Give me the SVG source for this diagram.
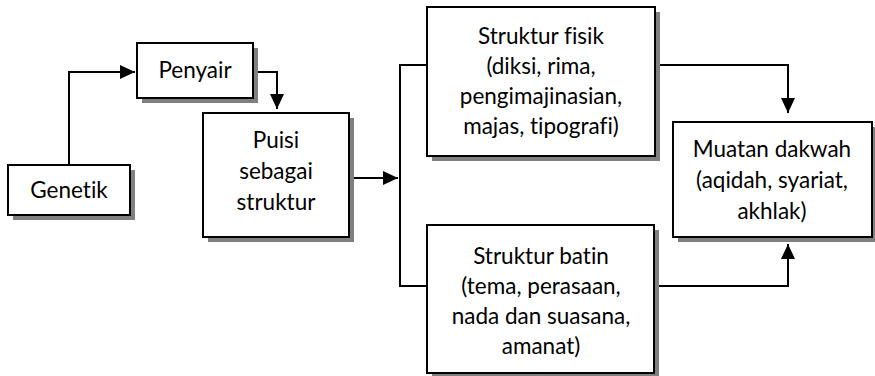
<svg xmlns="http://www.w3.org/2000/svg" width="875" height="376" viewBox="0 0 875 376">
<defs>
<style>
.box{fill:#ffffff;stroke:#000000;stroke-width:2}
.sh{fill:#808080}
.t{font-family:Lato,"Liberation Sans",sans-serif;font-size:22.5px;fill:#000000;text-anchor:middle;font-variant-ligatures:none;font-feature-settings:"liga" 0}
.c{fill:none;stroke:#000000;stroke-width:2}
</style>
<marker id="ah" viewBox="0 0 15 14" markerWidth="15" markerHeight="14" markerUnits="userSpaceOnUse" refX="15" refY="7" orient="auto">
<path d="M0,0 L15,7 L0,14 z" fill="#000000"/>
</marker>
</defs>
<rect width="875" height="376" fill="#ffffff"/>
<g id="connectors">
<path class="c" d="M69,165 V72 H135" marker-end="url(#ah)"/>
<path class="c" d="M257,72 H277 V109" marker-end="url(#ah)"/>
<path class="c" d="M349,178 H398" marker-end="url(#ah)"/>
<path class="c" d="M427,65 H400 V286 H427"/>
<path class="c" d="M655,65 H788 V113" marker-end="url(#ah)"/>
<path class="c" d="M654,286 H788 V244" marker-end="url(#ah)"/>
</g>
<g id="genetik">
<rect class="sh" x="13" y="170" width="122" height="50"/>
<rect class="box" x="8" y="165" width="122" height="50"/>
<text class="t" x="69" y="198">Genetik</text>
</g>
<g id="penyair">
<rect class="sh" x="142" y="48" width="116" height="55"/>
<rect class="box" x="137" y="43" width="116" height="55"/>
<text class="t" x="195" y="78">Penyair</text>
</g>
<g id="puisi">
<rect class="sh" x="208" y="118" width="146" height="124"/>
<rect class="box" x="203" y="113" width="146" height="124"/>
<text class="t" x="276" y="148">Puisi</text>
<text class="t" x="276" y="179">sebagai</text>
<text class="t" x="276" y="210">struktur</text>
</g>
<g id="struktur-fisik">
<rect class="sh" x="432" y="12" width="228" height="149"/>
<rect class="box" x="427" y="7" width="228" height="149"/>
<text class="t" x="541" y="44">Struktur fisik</text>
<text class="t" x="541" y="74">(diksi, rima,</text>
<text class="t" x="541" y="104">pengimajinasian,</text>
<text class="t" x="541" y="134">majas, tipografi)</text>
</g>
<g id="struktur-batin">
<rect class="sh" x="432" y="230" width="227" height="148"/>
<rect class="box" x="427" y="225" width="227" height="148"/>
<text class="t" x="541" y="264">Struktur batin</text>
<text class="t" x="541" y="294">(tema, perasaan,</text>
<text class="t" x="541" y="324">nada dan suasana,</text>
<text class="t" x="541" y="354">amanat)</text>
</g>
<g id="muatan-dakwah">
<rect class="sh" x="678" y="127" width="199" height="115"/>
<rect class="box" x="673" y="122" width="199" height="115"/>
<text class="t" x="772" y="157">Muatan dakwah</text>
<text class="t" x="772" y="188">(aqidah, syariat,</text>
<text class="t" x="772" y="219">akhlak)</text>
</g>
</svg>
